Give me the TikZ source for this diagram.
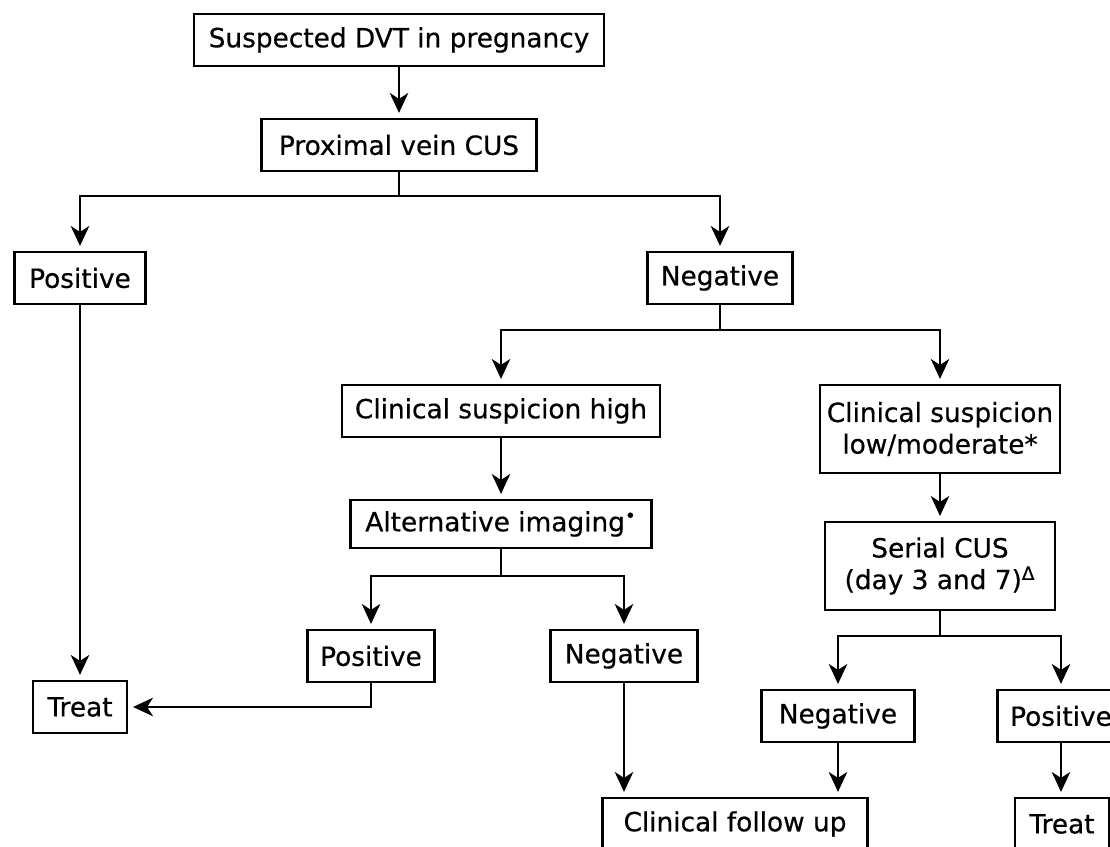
\documentclass[tikz,border=0pt]{standalone}
\usepackage{fontspec}
\setmainfont{DejaVu Sans}
\newfontfamily\boxfont[FakeBold=0.5]{DejaVu Sans}
\usetikzlibrary{arrows.meta}

\begin{document}
\begin{tikzpicture}[x=0.02cm, y=-0.02cm,
    box/.style={rectangle, draw, line width=1.2pt, fill=white, align=center, minimum height=1.04cm, inner sep=2pt, font=\boxfont\fontsize{15}{18}\selectfont},
    arrow/.style={line width=1.2pt, -{Stealth[length=0.4cm, width=0.37cm, inset=0.12cm]}, shorten >=0.1cm}
]
    \useasboundingbox (0,0) rectangle (1110,847);
    \clip (0,0) rectangle (1110,847);

    % Top
    \node[box, minimum width=8.2cm] (suspect) at (399,40) {Suspected DVT in pregnancy};
    \node[box, minimum width=5.5cm] (prox) at (399,145) {Proximal vein CUS};
    \node[box, minimum width=2.62cm] (posL) at (80,278) {Positive};
    \node[box, minimum width=2.9cm] (neg) at (720,278) {Negative};

    % Clinical suspicion
    \node[box, minimum width=6.36cm] (high) at (501,411) {Clinical suspicion high};
    \node[box, minimum width=4.8cm, minimum height=1.76cm] (low) at (940,429) {Clinical suspicion\\low/moderate*};

    % Alternative imaging
    \node[box, minimum width=6.02cm, minimum height=0.96cm] (alt) at (501,524) {Alternative imaging\textsuperscript{•}};
    \node[box, minimum width=2.54cm] (posM) at (371,656) {Positive};
    \node[box, minimum width=2.94cm] (negM) at (624,656) {Negative};

    % Serial CUS
    \node[box, minimum width=4.6cm, minimum height=1.76cm] (serial) at (940,566) {Serial CUS\\(day 3 and 7)\textsuperscript{Δ}};
    \node[box, minimum width=3.06cm] (negR) at (838,716) {Negative};
    \node[box, minimum width=2.54cm] (posR) at (1061,716) {Positive};

    % Outcomes
    \node[box, minimum width=1.88cm] (treatL) at (80,707) {Treat};
    \node[box, minimum width=5.3cm] (follow) at (735,824) {Clinical follow up};
    \node[box, minimum width=1.88cm] (treatR) at (1062,824) {Treat};

    % Arrows
    \draw[arrow] (suspect) -- (prox);
    \draw[arrow] (prox.south) -- ++(0,24) -| (posL);
    \draw[arrow] (prox.south) -- ++(0,24) -| (neg);
    \draw[arrow] (neg.south) -- ++(0,25) -| (high);
    \draw[arrow] (neg.south) -- ++(0,25) -| (low);
    \draw[arrow] (high) -- (alt);
    \draw[arrow] (low) -- (serial);
    \draw[arrow] (alt.south) -- ++(0,27) -| (posM);
    \draw[arrow] (alt.south) -- ++(0,27) -| (negM);
    \draw[arrow] (serial.south) -- ++(0,25) -| (negR);
    \draw[arrow] (serial.south) -- ++(0,25) -| (posR);
    \draw[arrow] (posL) -- (treatL);
    \draw[arrow] (posM.south) |- (treatL);
    \draw[arrow] (negM.south) -- (negM.south |- follow.north);
    \draw[arrow] (negR.south) -- (negR.south |- follow.north);
    \draw[arrow] (posR.south) -- (posR.south |- treatR.north);

\end{tikzpicture}
\end{document}
